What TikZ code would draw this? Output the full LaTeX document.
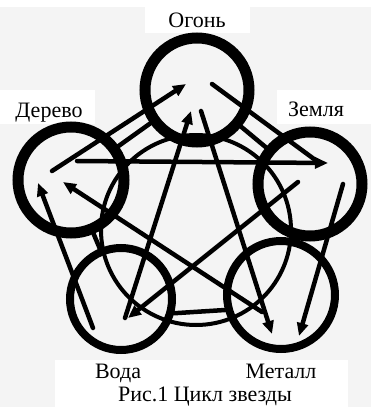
\documentclass[tikz,border=0pt]{standalone}
\usepackage{fontspec}
\setmainfont{Liberation Serif}
\usetikzlibrary{arrows.meta, calc}

\definecolor{paper}{RGB}{244,244,244}

\begin{document}
\begin{tikzpicture}[
    x=1pt, y=-1pt,
    font=\fontsize{22}{24}\selectfont,
    ring/.style={circle, draw=black, line width=11pt, inner sep=0pt},
    link/.style={line width=4.5pt, draw=black, line cap=round},
    arr/.style={link, -{Triangle[length=13pt, width=11pt]}},
    lbl/.style={anchor=base, inner sep=0pt},
    labbox/.style={fill=white},
]

% Paper and white label strips
\fill[paper] (0,0) rectangle (371,407);
\fill[white] (0,0) rectangle (371,7);
\fill[labbox] (145,7) rectangle (250,33);
\fill[labbox] (0,90) rectangle (95,124);
\fill[labbox] (277,90) rectangle (371,124);
\fill[labbox] (55,360) rectangle (348,407);

% ===== Five element rings =====
\node[ring, minimum size=104pt] (fire)  at (197,90)  {};
\node[ring, minimum size=106pt] (wood)  at (71,180)  {};
\node[ring, minimum size=104pt] (earth) at (310,184) {};
\node[ring, line width=8pt, minimum size=102pt] (water) at (121,299) {};
\node[ring, line width=8pt, minimum size=108pt] (metal) at (281,295) {};

% Big thin circle through the rings
\node[circle, draw=black, line width=4pt, minimum size=190pt, inner sep=0pt] (cycle) at (196,230) {};

% Pentagon between neighbouring rings
\draw[link] (wood) -- (fire);
\draw[link] (fire) -- (earth);
\draw[link] (earth) -- (metal);
\draw[link] (water.-15) -- (metal.195);
\draw[link] (water) -- (wood);

% Arrow ends
\coordinate (wf-s) at (52,171);  \coordinate (wf-e) at (186,84);
\coordinate (fe-s) at (212,84);  \coordinate (fe-e) at (314,159);
\coordinate (we-s) at (77,161);  \coordinate (we-e) at (328,163);
\coordinate (wa-s) at (125,318); \coordinate (wa-e) at (191,111);
\coordinate (fm-s) at (201,111); \coordinate (fm-e) at (272,334);
\coordinate (ew-s) at (298,182); \coordinate (ew-e) at (128,318);
\coordinate (mw-s) at (262,312); \coordinate (mw-e) at (63,182);
\coordinate (em-s) at (343,184); \coordinate (em-e) at (299,336);
\coordinate (ww-s) at (93,328);  \coordinate (ww-e) at (38,183);

% Generating arrows (outer)
\draw[arr] (wf-s) -- (wf-e);
\draw[link] (fe-s) -- (fe-e);
\draw[arr] (em-s) -- (em-e);
\draw[arr] (ww-s) -- (ww-e);

% Star arrows (inner)
\draw[arr] (we-s) -- (we-e);
\draw[arr] (wa-s) -- (wa-e);
\draw[arr] (fm-s) -- (fm-e);
\draw[arr] (ew-s) -- (ew-e);
\draw[arr] (mw-s) -- (mw-e);

% Labels
\node[lbl] (lfire)  at (197,27)  {Огонь};
\node[lbl] (lwood)  at (49,117)  {Дерево};
\node[lbl] (learth) at (316,116) {Земля};
\node[lbl] (lwater) at (118,378) {Вода};
\node[lbl] (lmetal) at (281,378) {Металл};
\node[lbl] (cap)    at (205,401) {Рис.1 Цикл звезды};

\end{tikzpicture}
\end{document}
